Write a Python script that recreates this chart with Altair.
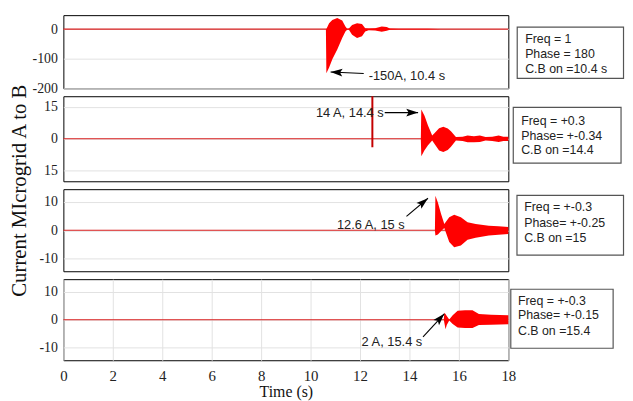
import altair as alt
import pandas as pd

# ---------------- data ----------------
# Panel 1 (Freq = 1, Phase = 180)
p1_t = [10.62, 10.64, 10.75, 10.88, 11.08, 11.28, 11.41, 11.48, 11.55, 11.68, 11.88,
        12.08, 12.21, 12.35, 12.61, 12.88, 13.08, 13.21, 13.55, 14.08, 14.75, 15.15, 15.25]
p1_hi = [0, 0, 20, 31, 37, 29, 9, 1, 2, 14, 20, 17, 3, 2, 3, 9, 7, 2, 1.5, 1, 1, 0.5, 0]
p1_lo = [0, -149, -130, -102, -69, -30, -8, -2, -2, -19, -30, -24, -8, -4, -5, -9, -6, -2,
         -1.5, -1, -1, -0.5, 0]

# Panel 2
p2_t = [14.46, 14.48, 14.61, 14.75, 14.92, 15.01, 15.20, 15.37, 15.55, 15.68, 15.88, 16.15,
        16.35, 16.61, 16.85, 17.08, 17.35, 17.61, 17.80, 18.0]
p2_hi = [0, 13.8, 10.8, 6.2, 1.5, 2.6, 5.0, 5.7, 4.8, 3.5, 0.8, 1.0, 1.5, 1.2, 1.5, 0.8, 1.0,
         1.5, 1.0, 1.0]
p2_lo = [0, -8.2, -5.4, -3.1, -0.8, -2.3, -5.5, -6.2, -5.3, -3.8, -0.8, -1.0, -1.7, -1.7,
         -1.5, -0.8, -1.0, -1.5, -1.0, -1.0]
p2_spike_t = [12.5]
p2_spike_top = [20]
p2_spike_bot = [-4]

# Panel 3
p3_t = [15.03, 15.05, 15.15, 15.28, 15.41, 15.61, 15.81, 16.08, 16.35, 16.68, 17.21, 17.6, 18.0]
p3_hi = [0, 12.2, 9.8, 5.7, 2.2, 4.6, 5.5, 4.6, 2.8, 2.2, 1.6, 1.4, 1.1]
p3_lo = [0, -1.9, -1.5, -0.3, 0.8, -4.2, -6.0, -5.4, -3.4, -2.7, -1.9, -1.6, -1.3]

# Panel 4
p4_t = [15.39, 15.41, 15.46, 15.51, 15.61, 15.75, 15.95, 16.25, 16.55, 16.81, 17.3, 18.0]
p4_hi = [0, 2.5, 2.0, 1.3, 0.1, 1.6, 3.2, 3.4, 3.4, 2.0, 1.8, 1.6]
p4_lo = [0, -1.0, -3.4, -1.9, -0.3, -1.5, -2.8, -3.0, -3.0, -1.9, -1.8, -1.6]

# y-axis ticks and ranges per panel
y_ticks = [[0, -100, -200], [15, 0, -15], [10, 0, -10], [10, 0, -10]]
y_domains = [[-200, 47], [-20, 20], [-14.5, 14.5], [-14.5, 14.5]]
x_ticks = [0, 2, 4, 6, 8, 10, 12, 14, 16, 18]

# annotations (text + arrow)
ann_text = ["-150A, 10.4 s", "14 A, 14.4 s", "12.6 A, 15 s", "2 A, 15.4 s"]
ann_t = [12.35, 12.96, 13.81, 14.52]
ann_v = [-157, 12.0, 1.75, -8.1]
ann_align = ["left", "right", "right", "right"]
arr_t0 = [12.15, 13.0, 13.88, 14.55]
arr_v0 = [-150, 12.3, 4.9, -6.1]
arr_t1 = [10.81, 14.35, 14.75, 15.41]
arr_v1 = [-145, 12.3, 11.3, 2.1]
arr_angle = [273, 90, 50, 43]

# info boxes to the right of each panel
box_x0 = [18.36, 18.2, 18.35, 18.1]
box_x1 = [22.66, 22.56, 22.66, 22.24]
box_top = [6.7, 14.8, 12.3, 10.9]
box_bot = [-166.7, -11.5, -8.8, -10.2]
box_text_t = [18.68, 18.52, 18.64, 18.39]
box_lines = [["Freq = 1", "Phase = 180", "C.B on =10.4 s"],
             ["Freq = +0.3", "Phase= +-0.34", "C.B on =14.4"],
             ["Freq = +-0.3", "Phase= +-0.25", "C.B on =15"],
             ["Freq = +-0.3", "Phase= +-0.15", "C.B on =15.4"]]
box_line_v = [[-33.3, -83.3, -133.3], [8.4, 1.5, -5.4], [8.1, 2.6, -2.7], [6.8, 1.5, -3.9]]

heights = [74, 86, 83, 82]

envelopes = [(p1_t, p1_hi, p1_lo), (p2_t, p2_hi, p2_lo), (p3_t, p3_hi, p3_lo), (p4_t, p4_hi, p4_lo)]

SERIF = "Liberation Serif"
SANS = "Liberation Sans"
ARROW = "M0,0L0.65,2L0,1.6L-0.65,2Z"


def panel(i):
    last = i == 3
    xscale = alt.Scale(domain=[0, 18], nice=False, zero=False)
    yscale = alt.Scale(domain=y_domains[i], nice=False, zero=False)
    if last:
        xaxis = alt.Axis(values=x_ticks, grid=True, title="Time (s)", labelFlush=False,
                         labelFont=SERIF, labelFontSize=15, labelPadding=8,
                         titleFont=SERIF, titleFontSize=16, titleFontWeight="normal",
                         titlePadding=1, titleColor="#111", labelColor="#222")
    else:
        xaxis = None
    yaxis = alt.Axis(values=y_ticks[i], title=None, grid=True, labelFont=SERIF,
                     labelFontSize=14, labelPadding=6, labelColor="#222",
                     labelExpr="datum.value == -15 ? '15' : '' + datum.value")

    def X(f):
        return alt.X(f + ":Q", scale=xscale, axis=xaxis)

    def Y(f):
        return alt.Y(f + ":Q", scale=yscale, axis=yaxis)

    base = pd.DataFrame({"t": [0, 18], "v": [0, 0]})
    line = alt.Chart(base).mark_line(color="#d81e1e", strokeWidth=1.1).encode(x=X("t"), y=Y("v"))

    tt, hi, lo = envelopes[i]
    env = pd.DataFrame({"t": tt, "hi": hi, "lo": lo})
    area = alt.Chart(env).mark_area(color="#ff0000", opacity=1).encode(
        x=X("t"), y=Y("hi"), y2="lo:Q")

    layers = [line, area]

    if i == 1:
        sp = pd.DataFrame({"t": p2_spike_t, "top": p2_spike_top, "bot": p2_spike_bot})
        layers.append(alt.Chart(sp).mark_rule(color="#c40000", strokeWidth=2).encode(
            x=X("t"), y=Y("top"), y2="bot:Q"))

    arr = pd.DataFrame({"t0": [arr_t0[i]], "v0": [arr_v0[i]], "t1": [arr_t1[i]], "v1": [arr_v1[i]]})
    layers.append(alt.Chart(arr).mark_rule(color="#000", strokeWidth=1.1).encode(
        x=X("t0"), y=Y("v0"), x2="t1:Q", y2="v1:Q"))
    layers.append(alt.Chart(arr).mark_point(shape=ARROW, filled=True, color="#000", size=144,
                                            opacity=1, angle=arr_angle[i]).encode(
        x=X("t1"), y=Y("v1")))

    ann = pd.DataFrame({"t": [ann_t[i]], "v": [ann_v[i]], "txt": [ann_text[i]]})
    layers.append(alt.Chart(ann).mark_text(font=SANS, fontSize=13, color="#222",
                                           align=ann_align[i], baseline="middle").encode(
        x=X("t"), y=Y("v"), text="txt:N"))

    box = pd.DataFrame({"x0": [box_x0[i]], "x1": [box_x1[i]], "top": [box_top[i]], "bot": [box_bot[i]]})
    layers.append(alt.Chart(box).mark_rect(fill="white", stroke="#555", strokeWidth=1.2).encode(
        x=X("x0"), x2="x1:Q", y=Y("top"), y2="bot:Q"))

    bt = pd.DataFrame({"t": [box_text_t[i]] * 3, "v": box_line_v[i], "txt": box_lines[i]})
    layers.append(alt.Chart(bt).mark_text(font=SANS, fontSize=12.5, color="#222",
                                          align="left", baseline="middle").encode(
        x=X("t"), y=Y("v"), text="txt:N"))

    return alt.layer(*layers).properties(width=450, height=heights[i])


chart = alt.vconcat(*[panel(i) for i in range(4)], spacing=8, bounds="flush").properties(
    title=alt.TitleParams("Current MIcrogrid A to B", orient="left", anchor="middle",
                          font=SERIF, fontSize=21, fontWeight="normal", color="#111",
                          offset=2, dx=17),
    padding={"left": 0, "top": 4, "right": 0, "bottom": 0},
    background="white",
).configure_view(stroke="#000", strokeWidth=1).configure_axis(
    domain=False, ticks=False, gridColor="#e2e2e2", gridWidth=1)

chart.save("out.html", embed_options={"renderer": "svg", "actions": False})
